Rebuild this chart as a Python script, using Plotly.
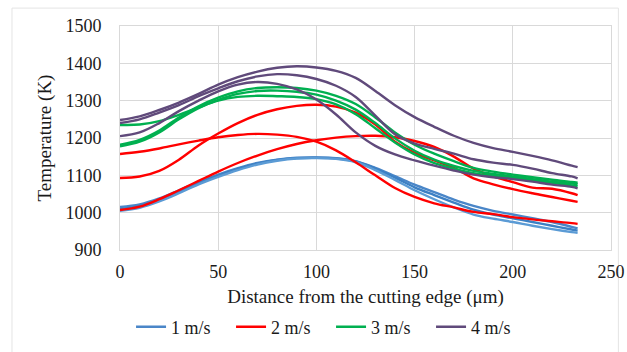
import plotly.graph_objects as go

distance = [0, 10, 20, 30, 40, 50, 60, 70, 80, 90, 100, 110, 120, 130, 140, 150,
            160, 170, 180, 190, 200, 210, 220, 230, 233]

# 1 m/s
b1 = [1015, 1022, 1038, 1060, 1082, 1102, 1119, 1133, 1142, 1147, 1148, 1146, 1138, 1120, 1098, 1075,
      1055, 1035, 1018, 1005, 995, 985, 975, 962, 958]
b2 = [1010, 1018, 1034, 1056, 1079, 1099, 1117, 1131, 1141, 1146, 1147, 1145, 1137, 1118, 1094, 1068,
      1047, 1027, 1008, 995, 985, 975, 965, 955, 952]
b3 = [1005, 1013, 1030, 1052, 1076, 1096, 1114, 1129, 1139, 1145, 1146, 1144, 1135, 1114, 1088, 1060,
      1036, 1014, 995, 984, 975, 965, 956, 948, 946]
# 2 m/s
r1 = [1007, 1016, 1036, 1060, 1085, 1110, 1133, 1153, 1170, 1184, 1194, 1201, 1205, 1206, 1202, 1192,
      1176, 1150, 1118, 1097, 1082, 1067, 1064, 1052, 1047]
r2 = [1093, 1097, 1112, 1142, 1180, 1212, 1240, 1262, 1277, 1286, 1289, 1284, 1268, 1236, 1190, 1160,
      1140, 1120, 1092, 1076, 1063, 1052, 1042, 1032, 1029]
r3 = [1157, 1163, 1172, 1183, 1193, 1202, 1208, 1211, 1209, 1203, 1190, 1167, 1135, 1100, 1066, 1042,
      1025, 1014, 1002, 996, 988, 982, 977, 972, 970]
# 3 m/s
g1 = [1235, 1236, 1245, 1262, 1282, 1300, 1310, 1313, 1312, 1310, 1304, 1290, 1264, 1226, 1188, 1156,
      1133, 1118, 1106, 1099, 1093, 1087, 1080, 1073, 1071]
g2 = [1182, 1195, 1220, 1255, 1285, 1308, 1325, 1334, 1336, 1334, 1327, 1313, 1291, 1255, 1215, 1182,
      1158, 1138, 1120, 1110, 1102, 1095, 1088, 1082, 1080]
g3 = [1178, 1190, 1215, 1250, 1280, 1302, 1318, 1326, 1327, 1324, 1316, 1300, 1276, 1240, 1199, 1166,
      1142, 1125, 1112, 1104, 1097, 1090, 1083, 1078, 1076]
# 4 m/s
p1 = [1248, 1258, 1275, 1295, 1318, 1343, 1363, 1378, 1388, 1392, 1389, 1380, 1361, 1326, 1288, 1256,
      1230, 1206, 1187, 1173, 1163, 1152, 1140, 1126, 1122]
p2 = [1240, 1250, 1268, 1288, 1312, 1333, 1352, 1365, 1371, 1368, 1358, 1340, 1310, 1260, 1210, 1185,
      1171, 1158, 1143, 1134, 1128, 1118, 1106, 1097, 1092]
p3 = [1205, 1215, 1240, 1272, 1300, 1325, 1343, 1350, 1345, 1330, 1303, 1263, 1215, 1179, 1156, 1140,
      1126, 1113, 1102, 1095, 1090, 1083, 1075, 1069, 1065]

groups = [
    ("1 m/s", ["#2e75b6", "#3c80c4", "#5b9bd5"], [b1, b2, b3]),
    ("2 m/s", ["#ff0000", "#ff0000", "#ff0000"], [r1, r2, r3]),
    ("3 m/s", ["#00b050", "#00b050", "#00b050"], [g1, g2, g3]),
    ("4 m/s", ["#604a7b", "#604a7b", "#604a7b"], [p1, p2, p3]),
]

font_family = "Liberation Serif"

fig = go.Figure()
for name, colors, series in groups:
    for i, (col, ys) in enumerate(zip(colors, series)):
        fig.add_trace(go.Scatter(
            x=distance, y=ys, mode="lines", name=name, legendgroup=name,
            showlegend=(i == 0),
            line=dict(color=("#4a86c8" if (i == 0 and name == "1 m/s") else col), width=2.4,
                      shape="spline", smoothing=1.0),
        ))

fig.update_layout(
    width=627, height=352,
    margin=dict(l=120, r=16, t=26, b=102),
    paper_bgcolor="white", plot_bgcolor="white",
    font=dict(family=font_family, size=18, color="#1a1a1a"),
    showlegend=True,
    legend=dict(orientation="h", xref="container", yref="container",
                x=0.209, xanchor="left", y=0.071, yanchor="middle",
                font=dict(family=font_family, size=18, color="#1a1a1a"),
                entrywidth=55, entrywidthmode="pixels", tracegroupgap=0,
                traceorder="normal", bgcolor="rgba(0,0,0,0)"),
    shapes=[dict(type="rect", xref="paper", yref="paper",
                 x0=-0.22, x1=1.015, y0=-0.46, y1=1.08,
                 line=dict(color="#e4e4e4", width=1), layer="below")],
)
fig.update_xaxes(
    range=[0, 250], tickvals=[0, 50, 100, 150, 200, 250], automargin=False,
    tickfont=dict(family=font_family, size=18, color="#1a1a1a"),
    showgrid=True, gridcolor="#d9d9d9", gridwidth=1,
    showline=True, linecolor="#d9d9d9", linewidth=1, mirror=True,
    zeroline=False, ticks="", ticklabelstandoff=5,
    title=dict(text="Distance from the cutting edge (μm)",
               font=dict(family=font_family, size=19, color="#1a1a1a"), standoff=10),
)
fig.update_yaxes(
    range=[900, 1500], tickvals=[900, 1000, 1100, 1200, 1300, 1400, 1500], automargin=False,
    tickfont=dict(family=font_family, size=18, color="#1a1a1a"),
    showgrid=True, gridcolor="#d9d9d9", gridwidth=1,
    showline=True, linecolor="#d9d9d9", linewidth=1, mirror=True,
    zeroline=False, ticks="", ticklabelstandoff=14,
    title=dict(text="Temperature (K)",
               font=dict(family=font_family, size=19, color="#1a1a1a"), standoff=8),
)

fig.write_html("out.html")
